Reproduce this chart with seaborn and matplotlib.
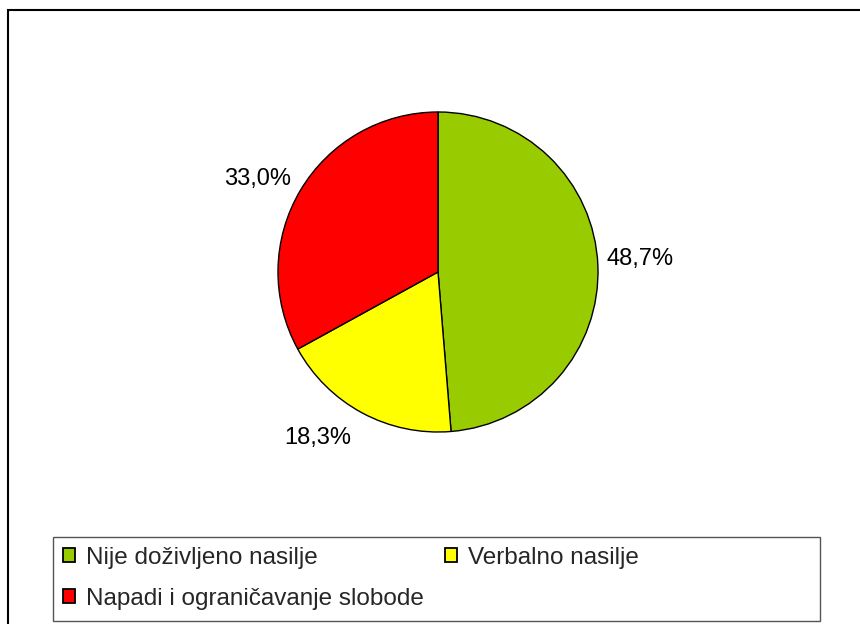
import matplotlib
matplotlib.use("Agg")
import matplotlib.pyplot as plt
import seaborn as sns
from matplotlib.patches import Rectangle

sns.set_theme(style="white")
plt.rcParams["font.family"] = ["Liberation Sans", "DejaVu Sans"]

categories = ["Nije doživljeno nasilje", "Verbalno nasilje", "Napadi i ograničavanje slobode"]
shares = [48.7, 18.3, 33.0]
colors = ["#99CC00", "#FFFF00", "#FF0000"]
# where the percent labels sit, in pie units (radius = 1)
label_pos = [(1.26, 0.08), (-0.75, -1.04), (-1.13, 0.58)]

fig = plt.figure(figsize=(8.6, 6.24), dpi=100)
fig.patch.set_facecolor("white")

# outer frame (runs off the right and bottom edge)
fig.patches.append(Rectangle((8 / 860, -0.1), 2, (614 / 624) + 0.1,
                             transform=fig.transFigure, fill=False,
                             edgecolor="black", linewidth=1.5))

ax = fig.add_axes([(438 - 200) / 860, (352 - 200) / 624, 400 / 860, 400 / 624])
wedges, texts, autotexts = ax.pie(
    shares, colors=colors, startangle=90, counterclock=False,
    autopct=lambda p: f"{p:.1f}%".replace(".", ","), pctdistance=1.27,
    wedgeprops=dict(edgecolor="black", linewidth=1),
    textprops=dict(fontsize=17, color="black"),
)
for t, pos in zip(autotexts, label_pos):
    t.set_position(pos)
ax.set_xlim(-1.25, 1.25)
ax.set_ylim(-1.25, 1.25)
ax.set_aspect("equal")
ax.axis("off")

# legend box
fig.patches.append(Rectangle((53 / 860, 3 / 624), 767 / 860, 84 / 624,
                             transform=fig.transFigure, fill=False,
                             edgecolor="#555555", linewidth=1))

# row-first order: green, yellow / red
order = [0, 2, 1]
leg = fig.legend(
    [wedges[i] for i in order], [categories[i] for i in order], ncol=2,
    bbox_to_anchor=(63 / 860, (624 - 547) / 624), loc="upper left",
    fontsize=17.5, frameon=False,
    handlelength=0.5, handleheight=0.5, handletextpad=0.45,
    borderaxespad=0, borderpad=0, labelspacing=0.78, columnspacing=0.85,
)
for h in leg.legend_handles:
    h.set_linewidth(1.3)

fig.savefig("out.png", dpi=100, facecolor="white")
